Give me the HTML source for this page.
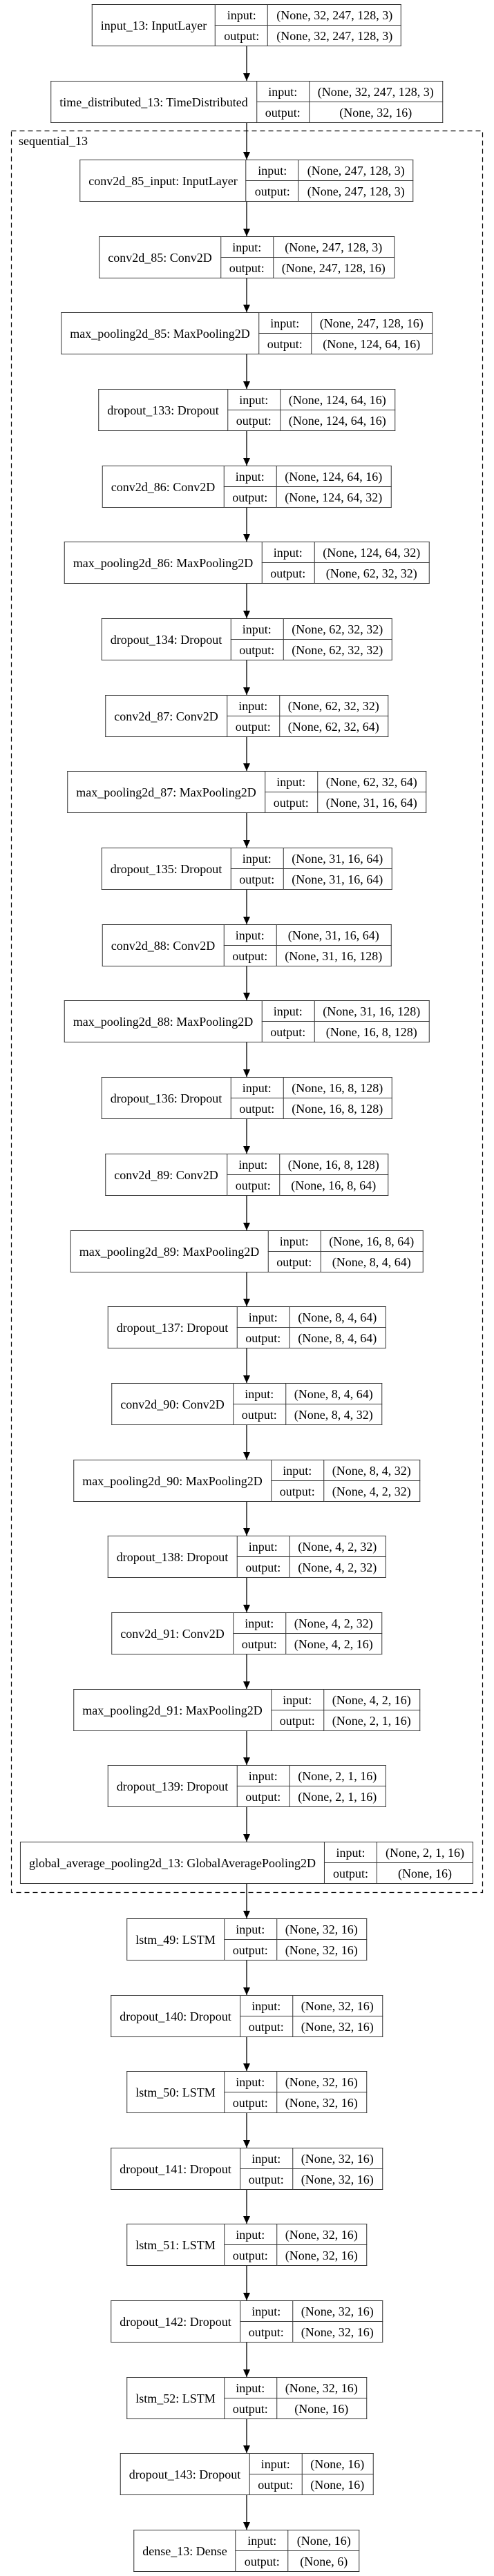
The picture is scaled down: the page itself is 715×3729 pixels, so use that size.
<!DOCTYPE html>
<html><head><meta charset="utf-8"><style>
html,body{margin:0;padding:0;background:#fff;}
body{width:715px;height:3729px;position:relative;overflow:hidden;}
.n{position:absolute;left:357px;transform:translateX(-50%);}
table{border-collapse:collapse;background:#fff;}
td{border:1.3px solid #333;padding:0 12px;height:29px;white-space:nowrap;text-align:center;font:18px/1 "Liberation Serif",serif;color:#000;}
svg{position:absolute;left:0;top:0;}
.lb{position:absolute;left:27px;top:195px;font:18px/1 "Liberation Serif",serif;}
</style></head><body>
<svg width="715" height="3729">
<defs><marker id="a" markerUnits="userSpaceOnUse" markerWidth="11" markerHeight="10" refX="11" refY="5" orient="auto"><path d="M0,0 L11,5 L0,10z" fill="#000"/></marker></defs>
<rect x="16.5" y="189.5" width="682" height="2550" fill="none" stroke="#000" stroke-width="1.2" stroke-dasharray="7,5"/>
<g stroke="#000" stroke-width="1.3" marker-end="url(#a)">
<line x1="357" y1="67" x2="357" y2="117"/>
<line x1="357" y1="178" x2="357" y2="231"/>
<line x1="357" y1="292" x2="357" y2="342"/>
<line x1="357" y1="403" x2="357" y2="452"/>
<line x1="357" y1="513" x2="357" y2="563"/>
<line x1="357" y1="624" x2="357" y2="674"/>
<line x1="357" y1="735" x2="357" y2="784"/>
<line x1="357" y1="845" x2="357" y2="895"/>
<line x1="357" y1="956" x2="357" y2="1006"/>
<line x1="357" y1="1067" x2="357" y2="1116"/>
<line x1="357" y1="1177" x2="357" y2="1227"/>
<line x1="357" y1="1288" x2="357" y2="1338"/>
<line x1="357" y1="1399" x2="357" y2="1448"/>
<line x1="357" y1="1509" x2="357" y2="1559"/>
<line x1="357" y1="1620" x2="357" y2="1670"/>
<line x1="357" y1="1731" x2="357" y2="1781"/>
<line x1="357" y1="1842" x2="357" y2="1891"/>
<line x1="357" y1="1952" x2="357" y2="2002"/>
<line x1="357" y1="2063" x2="357" y2="2113"/>
<line x1="357" y1="2174" x2="357" y2="2223"/>
<line x1="357" y1="2284" x2="357" y2="2334"/>
<line x1="357" y1="2395" x2="357" y2="2445"/>
<line x1="357" y1="2506" x2="357" y2="2555"/>
<line x1="357" y1="2616" x2="357" y2="2666"/>
<line x1="357" y1="2727" x2="357" y2="2777"/>
<line x1="357" y1="2838" x2="357" y2="2888"/>
<line x1="357" y1="2949" x2="357" y2="2998"/>
<line x1="357" y1="3059" x2="357" y2="3109"/>
<line x1="357" y1="3170" x2="357" y2="3219"/>
<line x1="357" y1="3280" x2="357" y2="3330"/>
<line x1="357" y1="3391" x2="357" y2="3441"/>
<line x1="357" y1="3502" x2="357" y2="3551"/>
<line x1="357" y1="3612" x2="357" y2="3662"/>
</g>
</svg>
<div class="lb">sequential_13</div>

<div class="n" style="top:6px"><table><tr><td rowspan="2">input_13: InputLayer</td><td>input:</td><td>(None, 32, 247, 128, 3)</td></tr><tr><td>output:</td><td>(None, 32, 247, 128, 3)</td></tr></table></div>
<div class="n" style="top:117px"><table><tr><td rowspan="2">time_distributed_13: TimeDistributed</td><td>input:</td><td>(None, 32, 247, 128, 3)</td></tr><tr><td>output:</td><td>(None, 32, 16)</td></tr></table></div>

<div class="n" style="top:231px"><table><tr><td rowspan="2">conv2d_85_input: InputLayer</td><td>input:</td><td>(None, 247, 128, 3)</td></tr><tr><td>output:</td><td>(None, 247, 128, 3)</td></tr></table></div>
<div class="n" style="top:342px"><table><tr><td rowspan="2">conv2d_85: Conv2D</td><td>input:</td><td>(None, 247, 128, 3)</td></tr><tr><td>output:</td><td>(None, 247, 128, 16)</td></tr></table></div>
<div class="n" style="top:452px"><table><tr><td rowspan="2">max_pooling2d_85: MaxPooling2D</td><td>input:</td><td>(None, 247, 128, 16)</td></tr><tr><td>output:</td><td>(None, 124, 64, 16)</td></tr></table></div>
<div class="n" style="top:563px"><table><tr><td rowspan="2">dropout_133: Dropout</td><td>input:</td><td>(None, 124, 64, 16)</td></tr><tr><td>output:</td><td>(None, 124, 64, 16)</td></tr></table></div>
<div class="n" style="top:674px"><table><tr><td rowspan="2">conv2d_86: Conv2D</td><td>input:</td><td>(None, 124, 64, 16)</td></tr><tr><td>output:</td><td>(None, 124, 64, 32)</td></tr></table></div>
<div class="n" style="top:784px"><table><tr><td rowspan="2">max_pooling2d_86: MaxPooling2D</td><td>input:</td><td>(None, 124, 64, 32)</td></tr><tr><td>output:</td><td>(None, 62, 32, 32)</td></tr></table></div>
<div class="n" style="top:895px"><table><tr><td rowspan="2">dropout_134: Dropout</td><td>input:</td><td>(None, 62, 32, 32)</td></tr><tr><td>output:</td><td>(None, 62, 32, 32)</td></tr></table></div>
<div class="n" style="top:1006px"><table><tr><td rowspan="2">conv2d_87: Conv2D</td><td>input:</td><td>(None, 62, 32, 32)</td></tr><tr><td>output:</td><td>(None, 62, 32, 64)</td></tr></table></div>
<div class="n" style="top:1116px"><table><tr><td rowspan="2">max_pooling2d_87: MaxPooling2D</td><td>input:</td><td>(None, 62, 32, 64)</td></tr><tr><td>output:</td><td>(None, 31, 16, 64)</td></tr></table></div>
<div class="n" style="top:1227px"><table><tr><td rowspan="2">dropout_135: Dropout</td><td>input:</td><td>(None, 31, 16, 64)</td></tr><tr><td>output:</td><td>(None, 31, 16, 64)</td></tr></table></div>
<div class="n" style="top:1338px"><table><tr><td rowspan="2">conv2d_88: Conv2D</td><td>input:</td><td>(None, 31, 16, 64)</td></tr><tr><td>output:</td><td>(None, 31, 16, 128)</td></tr></table></div>
<div class="n" style="top:1448px"><table><tr><td rowspan="2">max_pooling2d_88: MaxPooling2D</td><td>input:</td><td>(None, 31, 16, 128)</td></tr><tr><td>output:</td><td>(None, 16, 8, 128)</td></tr></table></div>
<div class="n" style="top:1559px"><table><tr><td rowspan="2">dropout_136: Dropout</td><td>input:</td><td>(None, 16, 8, 128)</td></tr><tr><td>output:</td><td>(None, 16, 8, 128)</td></tr></table></div>
<div class="n" style="top:1670px"><table><tr><td rowspan="2">conv2d_89: Conv2D</td><td>input:</td><td>(None, 16, 8, 128)</td></tr><tr><td>output:</td><td>(None, 16, 8, 64)</td></tr></table></div>
<div class="n" style="top:1781px"><table><tr><td rowspan="2">max_pooling2d_89: MaxPooling2D</td><td>input:</td><td>(None, 16, 8, 64)</td></tr><tr><td>output:</td><td>(None, 8, 4, 64)</td></tr></table></div>
<div class="n" style="top:1891px"><table><tr><td rowspan="2">dropout_137: Dropout</td><td>input:</td><td>(None, 8, 4, 64)</td></tr><tr><td>output:</td><td>(None, 8, 4, 64)</td></tr></table></div>
<div class="n" style="top:2002px"><table><tr><td rowspan="2">conv2d_90: Conv2D</td><td>input:</td><td>(None, 8, 4, 64)</td></tr><tr><td>output:</td><td>(None, 8, 4, 32)</td></tr></table></div>
<div class="n" style="top:2113px"><table><tr><td rowspan="2">max_pooling2d_90: MaxPooling2D</td><td>input:</td><td>(None, 8, 4, 32)</td></tr><tr><td>output:</td><td>(None, 4, 2, 32)</td></tr></table></div>
<div class="n" style="top:2223px"><table><tr><td rowspan="2">dropout_138: Dropout</td><td>input:</td><td>(None, 4, 2, 32)</td></tr><tr><td>output:</td><td>(None, 4, 2, 32)</td></tr></table></div>
<div class="n" style="top:2334px"><table><tr><td rowspan="2">conv2d_91: Conv2D</td><td>input:</td><td>(None, 4, 2, 32)</td></tr><tr><td>output:</td><td>(None, 4, 2, 16)</td></tr></table></div>
<div class="n" style="top:2445px"><table><tr><td rowspan="2">max_pooling2d_91: MaxPooling2D</td><td>input:</td><td>(None, 4, 2, 16)</td></tr><tr><td>output:</td><td>(None, 2, 1, 16)</td></tr></table></div>
<div class="n" style="top:2555px"><table><tr><td rowspan="2">dropout_139: Dropout</td><td>input:</td><td>(None, 2, 1, 16)</td></tr><tr><td>output:</td><td>(None, 2, 1, 16)</td></tr></table></div>
<div class="n" style="top:2666px"><table><tr><td rowspan="2">global_average_pooling2d_13: GlobalAveragePooling2D</td><td>input:</td><td>(None, 2, 1, 16)</td></tr><tr><td>output:</td><td>(None, 16)</td></tr></table></div>

<div class="n" style="top:2777px"><table><tr><td rowspan="2">lstm_49: LSTM</td><td>input:</td><td>(None, 32, 16)</td></tr><tr><td>output:</td><td>(None, 32, 16)</td></tr></table></div>
<div class="n" style="top:2888px"><table><tr><td rowspan="2">dropout_140: Dropout</td><td>input:</td><td>(None, 32, 16)</td></tr><tr><td>output:</td><td>(None, 32, 16)</td></tr></table></div>
<div class="n" style="top:2998px"><table><tr><td rowspan="2">lstm_50: LSTM</td><td>input:</td><td>(None, 32, 16)</td></tr><tr><td>output:</td><td>(None, 32, 16)</td></tr></table></div>
<div class="n" style="top:3109px"><table><tr><td rowspan="2">dropout_141: Dropout</td><td>input:</td><td>(None, 32, 16)</td></tr><tr><td>output:</td><td>(None, 32, 16)</td></tr></table></div>
<div class="n" style="top:3219px"><table><tr><td rowspan="2">lstm_51: LSTM</td><td>input:</td><td>(None, 32, 16)</td></tr><tr><td>output:</td><td>(None, 32, 16)</td></tr></table></div>
<div class="n" style="top:3330px"><table><tr><td rowspan="2">dropout_142: Dropout</td><td>input:</td><td>(None, 32, 16)</td></tr><tr><td>output:</td><td>(None, 32, 16)</td></tr></table></div>
<div class="n" style="top:3441px"><table><tr><td rowspan="2">lstm_52: LSTM</td><td>input:</td><td>(None, 32, 16)</td></tr><tr><td>output:</td><td>(None, 16)</td></tr></table></div>
<div class="n" style="top:3551px"><table><tr><td rowspan="2">dropout_143: Dropout</td><td>input:</td><td>(None, 16)</td></tr><tr><td>output:</td><td>(None, 16)</td></tr></table></div>
<div class="n" style="top:3662px"><table><tr><td rowspan="2">dense_13: Dense</td><td>input:</td><td>(None, 16)</td></tr><tr><td>output:</td><td>(None, 6)</td></tr></table></div>
</body></html>
